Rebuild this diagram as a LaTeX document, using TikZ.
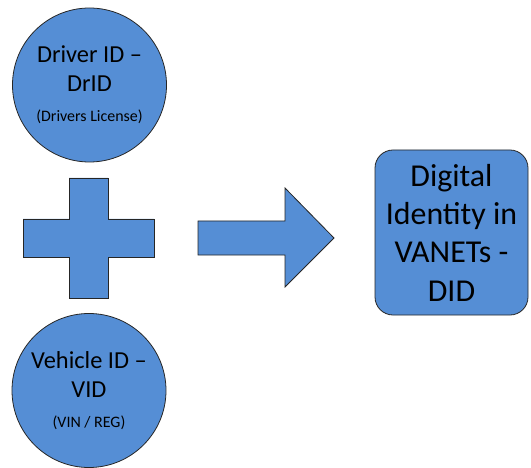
\documentclass[tikz,border=0pt]{standalone}
\usepackage{fontspec}
\setmainfont{Carlito}
\usetikzlibrary{positioning}
\definecolor{shapefill}{HTML}{558ED5}
\definecolor{shapeline}{HTML}{262626}

\tikzset{
  idcircle/.style={circle,draw=shapeline,fill=shapefill,line width=0.8pt,
    minimum size=154bp,inner sep=0pt,align=center,
    font=\fontsize{24.5}{29}\selectfont},
  didbox/.style={rectangle,rounded corners=18bp,draw=shapeline,fill=shapefill,
    line width=0.8pt,minimum width=153bp,minimum height=165bp,align=center,
    font=\fontsize{32}{38.5}\selectfont},
  blockshape/.style={draw=shapeline,fill=shapefill,line width=0.8pt}
}
\newcommand{\subtext}[1]{{\fontsize{16}{18}\selectfont #1}}

\begin{document}
\begin{tikzpicture}[x=1bp,y=-1bp]
  \useasboundingbox (0,0) rectangle (531,468);
  % the two inputs
  \node[idcircle] (drid) at (89.5,85) {Driver ID --\\DrID\\[1bp]\subtext{(Drivers License)}};
  \node[idcircle] (vid) at (89,390.5) {Vehicle ID --\\VID\\[1bp]\subtext{(VIN / REG)}};
  % plus sign
  \draw[blockshape] (69,178) -- (108,178) -- (108,219) -- (154,219) -- (154,257)
    -- (108,257) -- (108,298) -- (69,298) -- (69,257) -- (23,257) -- (23,219)
    -- (69,219) -- cycle;
  % block arrow
  \draw[blockshape] (198,221) -- (285,221) -- (285,188) -- (334,238) -- (285,287)
    -- (285,255) -- (198,255) -- cycle;
  % result
  \node[didbox] (did) at (451.5,232.5) {Digital\\Identity in\\VANETs -\\DID};
\end{tikzpicture}
\end{document}
